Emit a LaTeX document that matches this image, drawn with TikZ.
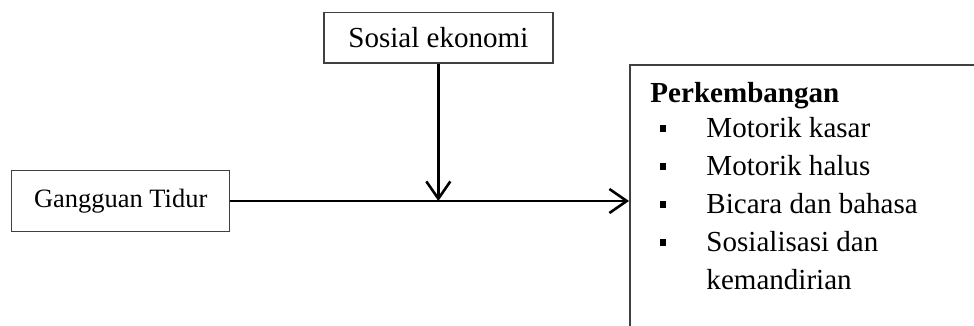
\documentclass[tikz,border=0pt]{standalone}
\usepackage{fontspec}
\setmainfont{Liberation Serif}
\usetikzlibrary{arrows.meta,positioning,calc}

\newcommand{\blt}{\hspace*{0.14cm}\rule[0.09cm]{0.1cm}{0.1cm}\hspace*{0.6cm}}

\begin{document}
\begin{tikzpicture}[
	font=\fontsize{12.4}{16.2}\selectfont,
	kotak/.style={draw=black!75, line width=0.7pt, inner sep=0pt},
	panah/.style={line width=1.1pt, -{Straight Barb[length=2.6mm, width=3.6mm]}}
	]

		\useasboundingbox (0,0) rectangle (14.61,4.875);
		\clip (0,0) rectangle (14.61,4.875);

		\node[kotak, minimum width=3.27cm, minimum height=0.92cm, font=\fontsize{11.3}{14}\selectfont] (gt) at (1.81,1.86) {Gangguan Tidur};
		\node[kotak, minimum width=3.435cm, minimum height=0.76cm] (se) at (6.575,4.31) {Sosial ekonomi};
		\node[kotak, anchor=north west, minimum width=6cm, minimum height=5cm] (kb) at (9.435,3.915) {};

		\node[inner sep=0pt, align=left, below right=0.265 and 0.315 of kb.north west] (kt)
			{\textbf{Perkembangan}\\[-1pt]
			\blt Motorik kasar\\
			\blt Motorik halus\\
			\blt Bicara dan bahasa\\
			\blt Sosialisasi dan\\
			\hspace*{0.84cm}kemandirian};

		\draw[panah] (gt.east) -- (gt.east -| kb.west);
		\draw[panah] (se.south) -- (se.south |- gt.east);

	\end{tikzpicture}
\end{document}
